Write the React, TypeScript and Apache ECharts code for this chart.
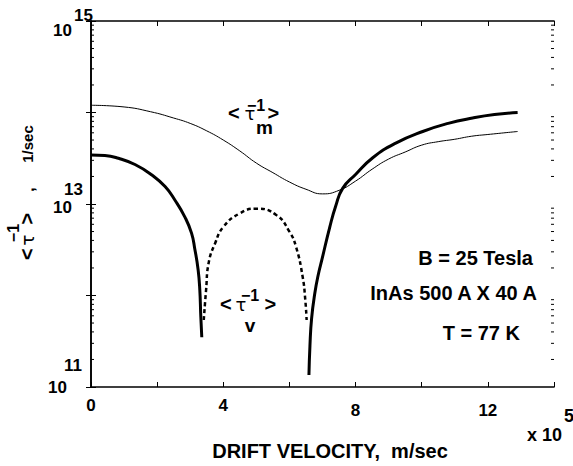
import React, { useEffect, useRef } from 'react';
import * as echarts from 'echarts';

// Drift velocity in units of 1e5 m/sec
const tauMX = [0, 1.0, 1.8, 2.5, 3.0, 3.5, 4.0, 4.5, 5.0, 5.5, 6.0, 6.5, 7.0, 7.5, 8.0, 8.5, 9.0, 9.5, 10.0, 10.5, 11.0, 11.5, 12.0, 12.9];
const tauMY = [1.2e14, 1.15e14, 1.02e14, 8.7e13, 7.6e13, 6.3e13, 5.0e13, 3.8e13, 2.8e13, 2.2e13, 1.74e13, 1.45e13, 1.29e13, 1.41e13, 1.78e13, 2.4e13, 3.1e13, 3.7e13, 4.4e13, 4.8e13, 5.1e13, 5.5e13, 5.75e13, 6.2e13];

const totLeftX = [0, 0.42, 0.83, 1.33, 1.83, 2.24, 2.54, 2.84, 3.04, 3.14, 3.24, 3.29, 3.32, 3.35];
const totLeftY = [3.43e13, 3.39e13, 3.16e13, 2.7e13, 2.09e13, 1.55e13, 1.1e13, 7.2e12, 4.8e12, 3.2e12, 1.9e12, 1.15e12, 5.9e11, 3.5e11];

const totRightX = [6.59, 6.62, 6.67, 6.77, 6.88, 6.98, 7.22, 7.4, 7.61, 8.0, 8.52, 9.2, 10.03, 10.8, 11.54, 12.2, 12.9];
const totRightY = [1.35e11, 2.8e11, 5.6e11, 1.07e12, 1.74e12, 2.45e12, 5.6e12, 9.5e12, 1.48e13, 2.1e13, 3.2e13, 4.6e13, 6.2e13, 7.6e13, 8.7e13, 9.5e13, 1.0e14];

const tauVX = [3.41, 3.48, 3.56, 3.75, 4.0, 4.5, 5.0, 5.6, 6.0, 6.2, 6.4, 6.48, 6.52];
const tauVY = [5.4e11, 1.15e12, 2.3e12, 3.7e12, 5.6e12, 7.9e12, 8.9e12, 7.6e12, 5.0e12, 3.4e12, 1.6e12, 8.9e11, 5.4e11];

const xTickLabels = [0, 4, 8, 12];
const yLabelExps = [11, 13, 15];
const minorTicks: number[] = [];
for (let e = 11; e < 15; e++) for (let k = 2; k <= 9; k++) minorTicks.push(k * Math.pow(10, e));

const zip = (xs: number[], ys: number[]) => xs.map((x, i) => [x, ys[i]]);

const FONT = '"Liberation Sans", Arial, sans-serif';
const TAUFONT = '"DejaVu Sans", sans-serif';
const bold = (s: number) => `bold ${s}px ${FONT}`;
const B = (size: number, extra: any = {}) => ({ fontSize: size, fontWeight: 'bold', fontFamily: FONT, color: '#000', ...extra });
const G = (size: number, extra: any = {}) => ({ font: bold(size), fontSize: size, fontWeight: 'bold', fontFamily: FONT, fill: '#000', ...extra });

// Three-line label: superscript "−1" line, "< τ >" line, subscript line
const tauLabel = (sub: string, o: { supPad: number; tPad: number; gPad: number; subPad: number; L0: number; L1: number; L2: number }) => ({
  text: `{s|−1}\n{a|<}{t|τ}{g|>}` + (sub ? `\n{m|${sub}}` : ''),
  rich: {
    s: G(16, { lineHeight: o.L0, padding: [0, 0, 0, o.supPad] }),
    a: G(20, { lineHeight: o.L1 }),
    t: { font: `normal 18px ${TAUFONT}`, fontSize: 18, fontWeight: 'normal', fontFamily: TAUFONT, fill: '#000', lineHeight: o.L1, padding: [0, 0, 0, o.tPad] },
    g: G(20, { lineHeight: o.L1, padding: [0, 0, 0, o.gPad] }),
    m: G(19, { lineHeight: o.L2, padding: [0, 0, 0, o.subPad] }),
  },
  font: bold(18), fontSize: 18, fontWeight: 'bold', fontFamily: FONT, fill: '#000', align: 'center', verticalAlign: 'middle',
});

const plain = (text: string, size: number, align = 'center') => ({
  text, font: bold(size), fontSize: size, fontWeight: 'bold', fontFamily: FONT, fill: '#000', align, verticalAlign: 'middle',
});

const richPlain = (text: string, size: number) => ({
  text: `{c|${text}}`, rich: { c: G(size) },
  font: bold(size), fontSize: size, fontWeight: 'bold', fontFamily: FONT, fill: '#000', align: 'center', verticalAlign: 'middle',
});

export default function App() {
  const ref = useRef<HTMLDivElement>(null);
  useEffect(() => {
    if (!ref.current) return;
    const chart = echarts.init(ref.current, undefined, { renderer: 'svg' });
    const axisLine = { show: true, lineStyle: { color: '#000', width: 1.6 } };
    const tick = { show: true, inside: true, length: 5, lineStyle: { color: '#000', width: 1 } };
    const lineCommon = { type: 'line', symbol: 'none', smooth: 0.5, silent: true };
    const rot = Math.PI / 2;
    const option: any = {
      animation: false,
      backgroundColor: '#fff',
      grid: { left: 91, top: 21, width: 463, height: 366, containLabel: false },
      xAxis: [
        {
          type: 'value', min: 0, max: 14, interval: 2, position: 'bottom',
          axisLine, axisTick: tick, splitLine: { show: false },
          axisLabel: {
            margin: 10,
            formatter: (v: number) => {
              if (!xTickLabels.includes(v)) return '';
              return v >= 8 ? `{lo|${v}}` : `{hi|${v}}`;
            },
            rich: {
              hi: B(17),
              lo: B(17, { padding: [5, 0, 0, 0] }),
            },
          },
          name: 'DRIFT VELOCITY,  m/sec', nameLocation: 'middle', nameGap: 54,
          nameTextStyle: B(20, { padding: [0, 0, 0, 15] }),
        },
        {
          type: 'value', min: 0, max: 14, interval: 2, position: 'top',
          axisLine, axisTick: tick, axisLabel: { show: false }, splitLine: { show: false },
        },
      ],
      yAxis: [
        {
          type: 'log', logBase: 10, min: 1e11, max: 1e15, splitNumber: 4, position: 'left',
          axisLine, axisTick: tick, splitLine: { show: false },
          axisLabel: {
            margin: -2, showMinLabel: true, showMaxLabel: true,
            formatter: (v: number) => {
              const e = Math.round(Math.log10(v));
              if (!yLabelExps.includes(e)) return '';
              return `{s${e}|${e}}\n{b${e}|10}`;
            },
            rich: {
              s15: B(17, { lineHeight: 18 }),
              b15: B(17, { lineHeight: 12, padding: [0, 21, 0, 0] }),
              s13: B(17, { lineHeight: 6, padding: [0, 10, 0, 0] }),
              b13: B(17, { lineHeight: 30, padding: [0, 21, 0, 0] }),
              s11: B(17, { lineHeight: 1, padding: [0, 11, 0, 0] }),
              b11: B(17, { lineHeight: 44, padding: [0, 26, 0, 0] }),
            },
          },
        },
        {
          type: 'log', logBase: 10, min: 1e11, max: 1e15, splitNumber: 4, position: 'right',
          axisLine, axisTick: tick, axisLabel: { show: false }, splitLine: { show: false },
        },
      ],
      series: [
        { ...lineCommon, name: 'tau_m', data: zip(tauMX, tauMY), lineStyle: { color: '#000', width: 1 } },
        { ...lineCommon, name: 'total_left', data: zip(totLeftX, totLeftY), lineStyle: { color: '#000', width: 3 } },
        { ...lineCommon, name: 'total_right', data: zip(totRightX, totRightY), lineStyle: { color: '#000', width: 3 } },
        { ...lineCommon, name: 'tau_v', data: zip(tauVX, tauVY), lineStyle: { color: '#000', width: 2.5, type: [4, 3] } },
        {
          type: 'custom', name: 'minorTicks', silent: true, clip: false,
          data: minorTicks.map((v) => [0, v]),
          encode: { x: 0, y: 1 },
          renderItem: (params: any, api: any) => {
            const y = api.coord([0, api.value(1)])[1];
            const cs = params.coordSys;
            return {
              type: 'group',
              children: [
                { type: 'line', shape: { x1: cs.x, y1: y, x2: cs.x + 3, y2: y }, style: { stroke: '#000', lineWidth: 1 } },
                { type: 'line', shape: { x1: cs.x + cs.width, y1: y, x2: cs.x + cs.width - 3, y2: y }, style: { stroke: '#000', lineWidth: 1 } },
              ],
            };
          },
        },
      ],
      graphic: [
        // y axis title, rotated (each piece rotated about its own anchor)
        { type: 'text', x: 25, y: 236.5, rotation: rot, style: tauLabel('', { supPad: 7, tPad: 3, gPad: 10, subPad: 0, L0: 4, L1: 24, L2: 1 }) },
        { type: 'text', x: 28, y: 189.5, rotation: rot, style: richPlain(',', 16) },
        { type: 'text', x: 27, y: 144, rotation: rot, style: richPlain('1/sec', 15) },
        // tau_m label
        { type: 'text', x: 253.5, y: 119, style: tauLabel('m', { supPad: 5, tPad: 5, gPad: 12, subPad: 22, L0: 2, L1: 14, L2: 14 }) },
        // tau_v label
        { type: 'text', x: 248, y: 317, style: tauLabel('v', { supPad: 4, tPad: 4, gPad: 18, subPad: 4, L0: 2, L1: 15, L2: 28 }) },
        // annotations
        { type: 'text', x: 533, y: 258, style: plain('B = 25 Tesla', 20, 'right') },
        { type: 'text', x: 537, y: 293, style: plain('InAs 500 A X 40 A', 20, 'right') },
        { type: 'text', x: 520, y: 333, style: plain('T = 77 K', 20, 'right') },
        // x 10^5
        { type: 'text', x: 562, y: 435, style: plain('x 10', 18, 'right') },
        { type: 'text', x: 564, y: 416, style: plain('5', 18, 'left') },
      ],
    };
    chart.setOption(option);
    return () => chart.dispose();
  }, []);
  return <div ref={ref} style={{ position: 'fixed', left: 0, top: 0, width: 573, height: 466, background: '#fff' }} />;
}
